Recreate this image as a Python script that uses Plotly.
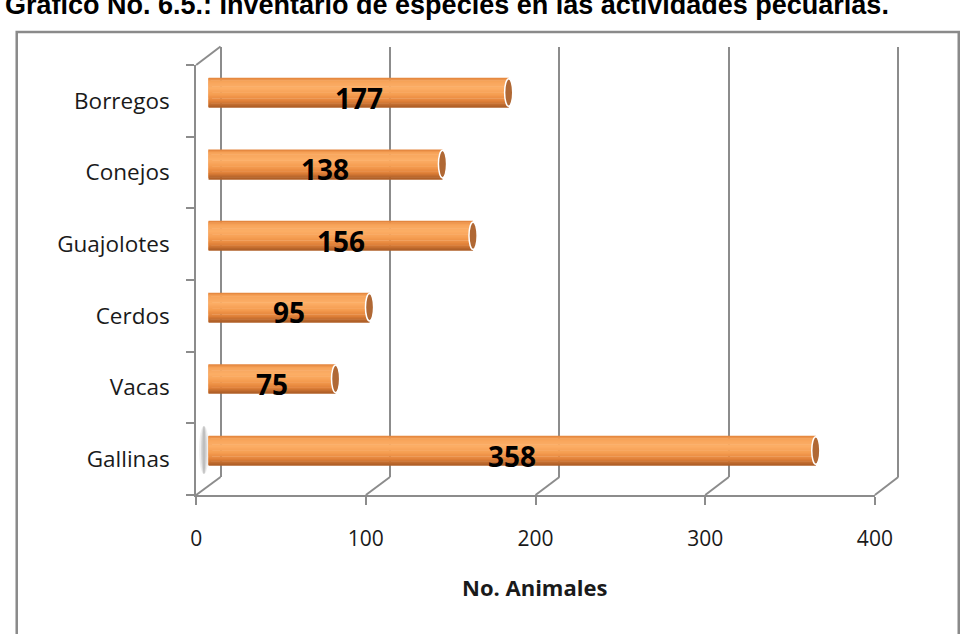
import plotly.graph_objects as go

# ---- data (listed bottom-to-top, as drawn on the category axis) ----
especies = ["Gallinas", "Vacas", "Cerdos", "Guajolotes", "Conejos", "Borregos"]
animales = [358, 75, 95, 156, 138, 177]
x_ticks = [0, 100, 200, 300, 400]
x_tick_labels = ["0", "100", "200", "300", "400"]

titulo = "Gráfico No. 6.5.: Inventario de especies en las actividades pecuarias."
titulo_eje_x = "No. Animales"

W, H = 967, 634
X_MAX = 400

# pseudo-3D geometry: front plane, bar plane (mid depth) and back wall, in pixels
FRONT_X = (195, 891)
BAR_X = (207.5, 903.5)
BACK_X = (220, 915)
FRONT_Y = (65, 495)      # top, bottom
BAR_Y = (56.7, 486.3)
BACK_Y = (46.5, 477)

GRID = "#8c8c8c"
TXT = "#1a1a1a"
FONT = "Open Sans, Lato, DejaVu Sans, sans-serif"


def dom_x(px):
    return [px[0] / W, px[1] / W]


def dom_y(py):
    return [1 - py[1] / H, 1 - py[0] / H]


def fx(px):
    return px / W


def fy(py):
    return 1 - py / H


def front_px(v):
    return FRONT_X[0] + (FRONT_X[1] - FRONT_X[0]) * v / X_MAX


def back_px(v):
    return BACK_X[0] + (BACK_X[1] - BACK_X[0]) * v / X_MAX


# the back wall axis is padded by a few units so its end gridlines are drawn
PAD = 3
back_dom = [back_px(-PAD) / W, back_px(X_MAX + PAD) / W]

fig = go.Figure()

# back wall subplot (x / y): only vertical gridlines
fig.add_trace(go.Scatter(x=[], y=[], xaxis="x", yaxis="y", showlegend=False,
                         hoverinfo="skip"))

# cylinder bars (x2 / y2): stacked thin stripes give the rounded shading
bar_w = 0.405
stops = [
    (0.00, (228, 134, 62)),
    (0.10, (247, 164, 90)),
    (0.35, (252, 174, 102)),
    (0.60, (245, 156, 80)),
    (0.82, (226, 130, 58)),
    (1.00, (176, 96, 40)),
]


def shade(t):
    for (t0, c0), (t1, c1) in zip(stops[:-1], stops[1:]):
        if t0 <= t <= t1:
            k = (t - t0) / (t1 - t0)
            return "rgb(%d,%d,%d)" % tuple(round(a + (b - a) * k) for a, b in zip(c0, c1))
    return "rgb(%d,%d,%d)" % stops[-1][1]


n_strips = 24
step = bar_w / n_strips
for i in range(n_strips):
    t = i / (n_strips - 1)          # 0 = top edge, 1 = bottom edge
    off = bar_w / 2 - (i + 1) * step
    fig.add_trace(go.Bar(
        x=animales, y=especies, orientation="h",
        xaxis="x2", yaxis="y2",
        width=step * 1.25, offset=off - step * 0.125,
        marker=dict(color=shade(t), line=dict(width=0)),
        showlegend=False, hoverinfo="skip" if i else "x+y",
    ))

# front axes (x3 / y3): axis lines, ticks and labels
fig.add_trace(go.Scatter(x=animales, y=especies, xaxis="x3", yaxis="y3",
                         mode="markers", marker=dict(opacity=0),
                         showlegend=False, hoverinfo="skip"))

shapes = []

# rounded left end and darker right end of every cylinder
half_cap = 2.4
for i, v in enumerate(animales):
    shapes.append(dict(type="circle", xref="x2", yref="y2", layer="below",
                       x0=-half_cap, x1=half_cap,
                       y0=i - bar_w / 2, y1=i + bar_w / 2,
                       fillcolor="rgb(240,150,78)", line=dict(width=0)))
    shapes.append(dict(type="circle", xref="x2", yref="y2", layer="above",
                       x0=v - half_cap, x1=v + half_cap,
                       y0=i - bar_w / 2 + 0.01, y1=i + bar_w / 2 - 0.01,
                       fillcolor="rgb(176,104,52)",
                       line=dict(color="white", width=1.5)))

# soft shadow at the base of the longest cylinder
for x0, x1, a in [(198, 208, 0.12), (200, 206, 0.2), (201.5, 204.5, 0.25)]:
    shapes.append(dict(type="circle", xref="paper", yref="paper", layer="below",
                       x0=fx(x0), x1=fx(x1), y0=fy(474), y1=fy(426),
                       fillcolor="rgba(120,120,120,%.2f)" % a, line=dict(width=0)))

# floor edges joining the front axis ticks to the back wall
for v in x_ticks:
    shapes.append(dict(type="line", xref="paper", yref="paper",
                       x0=fx(front_px(v)), y0=fy(FRONT_Y[1]),
                       x1=fx(back_px(v)), y1=fy(BACK_Y[1]),
                       line=dict(color=GRID, width=2)))
# top edge of the side wall
shapes.append(dict(type="line", xref="paper", yref="paper",
                   x0=fx(front_px(0)), y0=fy(FRONT_Y[0]),
                   x1=fx(back_px(0)), y1=fy(BACK_Y[0]),
                   line=dict(color=GRID, width=2)))

# outer frame
shapes.append(dict(type="rect", xref="paper", yref="paper",
                   x0=fx(11), x1=fx(W + 10), y0=fy(32), y1=fy(H + 10),
                   line=dict(color="#8a8a8a", width=2.5)))

annotations = []
for i, v in enumerate(animales):
    annotations.append(dict(x=v / 2, y=i, xref="x2", yref="y2",
                            text="<b>%d</b>" % v, showarrow=False,
                            yshift=-5,
                            font=dict(family=FONT, size=28, color="black")))

annotations.append(dict(x=fx(542), y=fy(604), xref="paper", yref="paper",
                        text="<b>%s</b>" % titulo_eje_x, showarrow=False,
                        font=dict(family=FONT, size=22, color=TXT)))

annotations.append(dict(x=fx(-3), y=fy(5), xref="paper", yref="paper",
                        xanchor="left", yanchor="middle",
                        text="<b>%s</b>" % titulo, showarrow=False,
                        font=dict(family="Liberation Sans, Arial, sans-serif",
                                  size=27, color="black")))

fig.update_layout(
    width=W, height=H,
    margin=dict(l=0, r=0, t=0, b=0),
    paper_bgcolor="white",
    plot_bgcolor="rgba(0,0,0,0)",
    barmode="overlay",
    showlegend=False,
    shapes=shapes,
    annotations=annotations,
    # back wall
    xaxis=dict(domain=back_dom, range=[-PAD, X_MAX + PAD], anchor="y",
               tickvals=x_ticks, showticklabels=False, ticks="",
               showgrid=True, gridcolor=GRID, gridwidth=2,
               showline=False, zeroline=False, fixedrange=True),
    yaxis=dict(domain=dom_y(BACK_Y), range=[0, 1], anchor="x",
               showgrid=False, showticklabels=False, ticks="",
               showline=False, zeroline=False, fixedrange=True),
    # bars
    xaxis2=dict(domain=dom_x(BAR_X), range=[0, X_MAX], anchor="y2",
                visible=False, fixedrange=True),
    yaxis2=dict(domain=dom_y(BAR_Y), range=[-0.5, len(especies) - 0.5],
                anchor="x2", type="category", categoryorder="array",
                categoryarray=especies, visible=False, fixedrange=True),
    # front axes
    xaxis3=dict(domain=dom_x(FRONT_X), range=[0, X_MAX], anchor="y3",
                tickvals=x_ticks, ticktext=x_tick_labels,
                ticks="outside", ticklen=8, tickwidth=2, tickcolor=GRID,
                showline=True, linecolor=GRID, linewidth=2,
                showgrid=False, zeroline=False, ticklabelstandoff=16,
                tickfont=dict(family=FONT, size=21, color=TXT),
                fixedrange=True),
    yaxis3=dict(domain=dom_y(FRONT_Y), range=[-0.5, len(especies) - 0.5],
                anchor="x3", type="category", categoryorder="array",
                categoryarray=especies, tickson="boundaries",
                ticks="outside", ticklen=8, tickwidth=2, tickcolor=GRID,
                showline=True, linecolor=GRID, linewidth=2,
                showgrid=False, zeroline=False, ticklabelstandoff=20,
                tickfont=dict(family=FONT, size=22.5, color=TXT),
                fixedrange=True),
)

fig.write_html("out.html")
